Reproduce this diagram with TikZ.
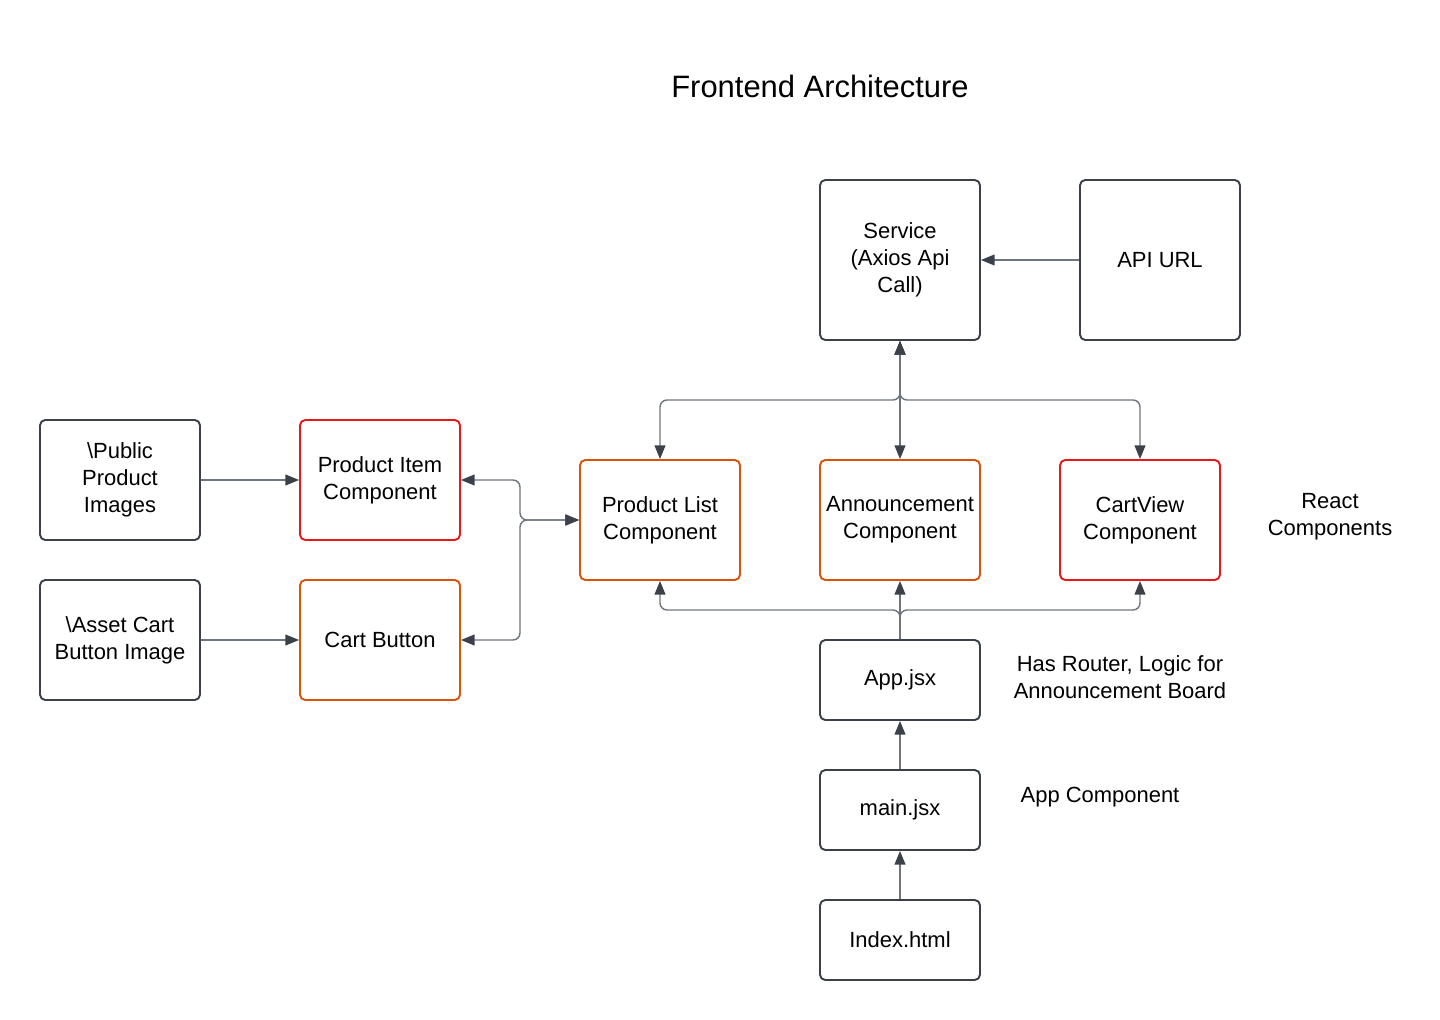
\documentclass[tikz,border=0pt]{standalone}
\usepackage{fontspec}
\setmainfont{Liberation Sans}
\usetikzlibrary{arrows.meta,positioning}
\definecolor{boxgray}{HTML}{3A414A}
\definecolor{boxred}{HTML}{E8191B}
\definecolor{boxorange}{HTML}{D9540B}
\definecolor{linegray}{HTML}{6E7580}
\begin{document}
\begin{tikzpicture}[x = .02cm, y = -.02cm,
	every node/.style = {font = \fontsize{12.5pt}{15.4pt}\selectfont, align = center},
	box/.style = {draw = boxgray, line width = 1.1pt, rounded corners = 3pt, minimum width = 3.2cm, minimum height = 2.4cm, inner sep = 0pt},
	conn/.style = {draw = linegray, line width = .8pt, rounded corners = 4pt},
	>={Triangle[length = 7.8pt, width = 6.2pt, color = boxgray]}]
				\useasboundingbox (0,0) rectangle (1440,1020);
				\node[font = \fontsize{17.6pt}{21pt}\selectfont] (title) at (820,86) {Frontend Architecture};
				\node[box, minimum height = 3.2cm] (service) at (900,260) {Service\\(Axios Api\\Call)};
				\node[box, minimum height = 3.2cm] (apiurl) at (1160,260) {API URL};
				\node[box] (pubimg) at (120,480) {\textbackslash Public\\Product\\Images};
				\node[box, draw = boxred] (pitem) at (380,480) {Product Item\\Component};
				\node[box] (assetimg) at (120,640) {\textbackslash Asset Cart\\Button Image};
				\node[box, draw = boxorange] (cartbtn) at (380,640) {Cart Button};
				\node[box, draw = boxorange] (plist) at (660,520) {Product List\\Component};
				\node[box, draw = boxorange] (annc) at (900,520) {Announcement\\Component};
				\node[box, draw = boxred] (cartview) at (1140,520) {CartView\\Component};
				\node (reactlbl) at (1330,517) {React\\Components};
				\node[box, minimum height = 1.6cm] (appjsx) at (900,680) {App.jsx};
				\node[box, minimum height = 1.6cm] (mainjsx) at (900,810) {main.jsx};
				\node[box, minimum height = 1.6cm] (index) at (900,940) {Index.html};
				\node (routerlbl) at (1120,677) {Has Router, Logic for\\Announcement Board};
				\node (applbl) at (1100,797) {App Component};
				\coordinate (pjoin) at (520,520); %product list junction
				\coordinate (svcsplit) at (900,400); %service branch
				\coordinate (appsplit) at (900,610); %app branch
				\draw[conn, ->] (pubimg) -- (pitem);
				\draw[conn, ->] (assetimg) -- (cartbtn);
				\draw[conn, ->] (apiurl) -- (service);
				\draw[conn, <->] (pitem.east) -| (pjoin) -- (plist.west);
				\draw[conn, <->] (cartbtn.east) -| (pjoin) -- (plist.west);
				\draw[conn, <->] (service.south) -- (annc.north);
				\draw[conn, <->] (service.south) -- (svcsplit) -| (plist.north);
				\draw[conn, <->] (service.south) -- (svcsplit) -| (cartview.north);
				\draw[conn, ->] (appjsx.north) -- (annc.south);
				\draw[conn, ->] (appjsx.north) -- (appsplit) -| (plist.south);
				\draw[conn, ->] (appjsx.north) -- (appsplit) -| (cartview.south);
				\draw[conn, ->] (mainjsx) -- (appjsx);
				\draw[conn, ->] (index) -- (mainjsx);
			\end{tikzpicture}
\end{document}
